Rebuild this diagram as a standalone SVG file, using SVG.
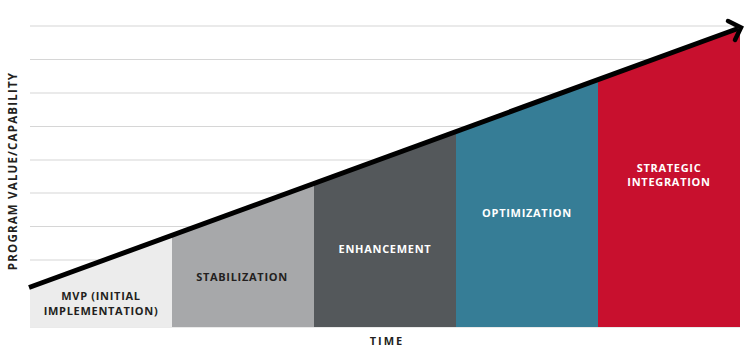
<svg xmlns="http://www.w3.org/2000/svg" width="750" height="363" viewBox="0 0 750 363">
<style>
.grid{stroke:#d6d6d6;stroke-width:1.2}
.lbl{font-family:"Open Sans","Noto Sans","Liberation Sans",sans-serif;font-weight:700;font-size:11px;letter-spacing:0.7px;text-anchor:middle}
.axis{font-size:11.5px;letter-spacing:1.2px}
.dark{fill:#231f20}
.light{fill:#ffffff}
.trend{fill:none;stroke:#000;stroke-width:5;stroke-linecap:butt}
.head{fill:none;stroke:#000;stroke-width:4.5;stroke-linecap:round;stroke-linejoin:miter}
</style>
<rect width="750" height="363" fill="#fff"/>
<g id="grid">
<line class="grid" x1="30" y1="26" x2="740" y2="26"/>
<line class="grid" x1="30" y1="59.5" x2="740" y2="59.5"/>
<line class="grid" x1="30" y1="93" x2="740" y2="93"/>
<line class="grid" x1="30" y1="126.5" x2="740" y2="126.5"/>
<line class="grid" x1="30" y1="160" x2="740" y2="160"/>
<line class="grid" x1="30" y1="193" x2="740" y2="193"/>
<line class="grid" x1="30" y1="226.5" x2="740" y2="226.5"/>
<line class="grid" x1="30" y1="260" x2="740" y2="260"/>
<line class="grid" x1="30" y1="293.5" x2="740" y2="293.5"/>
<line class="grid" x1="30" y1="327" x2="740" y2="327"/>
</g>
<g id="mvp">
<polygon points="30,289 172,237 172,327 30,327" fill="#ececec"/>
<text class="lbl dark" x="101" y="300">MVP (INITIAL</text>
<text class="lbl dark" x="101" y="315">IMPLEMENTATION)</text>
</g>
<g id="stabilization">
<polygon points="172,237 314,185 314,327 172,327" fill="#a7a8aa"/>
<text class="lbl dark" x="242" y="281">STABILIZATION</text>
</g>
<g id="enhancement">
<polygon points="314,185 456,133 456,327 314,327" fill="#54585b"/>
<text class="lbl light" x="385" y="253">ENHANCEMENT</text>
</g>
<g id="optimization">
<polygon points="456,133 598,81 598,327 456,327" fill="#367d96"/>
<text class="lbl light" x="527" y="217">OPTIMIZATION</text>
</g>
<g id="strategic">
<polygon points="598,81 740,29 740,327 598,327" fill="#c8102e"/>
<text class="lbl light" x="669" y="172">STRATEGIC</text>
<text class="lbl light" x="669" y="186">INTEGRATION</text>
</g>
<g id="connectors">
<line class="trend" x1="29" y1="287.5" x2="738" y2="28.5"/>
<polyline class="head" points="728,21 741,27.5 735,40"/>
</g>
<g id="axes">
<text class="lbl dark" x="387" y="345" style="letter-spacing:2px">TIME</text>
<text class="lbl dark axis" transform="translate(17,171) rotate(-90)" x="0" y="0">PROGRAM VALUE/CAPABILITY</text>
</g>
</svg>
